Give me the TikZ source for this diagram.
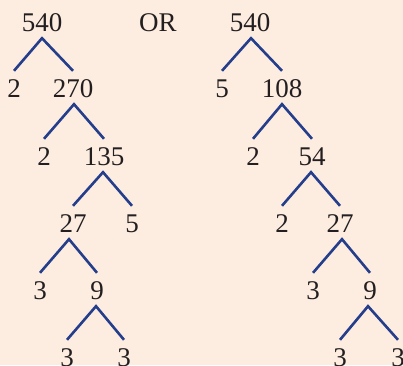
\documentclass[tikz,border=0pt]{standalone}
\usepackage{fontspec}
\setmainfont{Liberation Serif}
\definecolor{bgpeach}{RGB}{253,236,224}
\definecolor{lineblue}{RGB}{36,62,140}
\definecolor{numtext}{RGB}{35,31,32}
\begin{document}
\begin{tikzpicture}[x=1pt,y=-1pt,
  num/.style={anchor=base,inner sep=0pt,text height=18pt,text depth=0pt,text=numtext,
    font=\fontsize{27}{32}\selectfont},
  branch/.style={draw=lineblue,line width=2.6pt}]
\fill[bgpeach] (0,0) rectangle (403,365);
\useasboundingbox (0,0) rectangle (403,365);
% left tree
\node[num] (a0) at (42,31) {540};
\node[num] (a1) at (14,97) {2};
\node[num] (a2) at (73,97) {270};
\node[num] (a3) at (44,165) {2};
\node[num] (a4) at (104,165) {135};
\node[num] (a5) at (73,232) {27};
\node[num] (a6) at (132,232) {5};
\node[num] (a7) at (40,299) {3};
\node[num] (a8) at (97,299) {9};
\node[num] (a9) at (67,366) {3};
\node[num] (a10) at (124,366) {3};
% OR
\node[num] (or) at (158,31) {OR};
% right tree
\node[num] (b0) at (250,31) {540};
\node[num] (b1) at (222,97) {5};
\node[num] (b2) at (282,97) {108};
\node[num] (b3) at (253,165) {2};
\node[num] (b4) at (312,165) {54};
\node[num] (b5) at (282,232) {2};
\node[num] (b6) at (340,232) {27};
\node[num] (b7) at (313,299) {3};
\node[num] (b8) at (370,299) {9};
\node[num] (b9) at (340,366) {3};
\node[num] (b10) at (398,366) {3};
% branches: parent/apex x-shift/left child/right child
\foreach \p/\s/\l/\r in {a0/0/a1/a2, a2/1/a3/a4, a4/-1/a5/a6, a5/-4/a7/a8, a8/-1/a9/a10,
                         b0/1/b1/b2, b2/0/b3/b4, b4/-1/b5/b6, b6/2/b7/b8, b8/-2/b9/b10}{
  \draw[branch] ([yshift=8pt]\l.north) -- ([xshift=\s pt,yshift=-7pt]\p.south) -- ([yshift=8pt]\r.north);
}
\end{tikzpicture}
\end{document}
